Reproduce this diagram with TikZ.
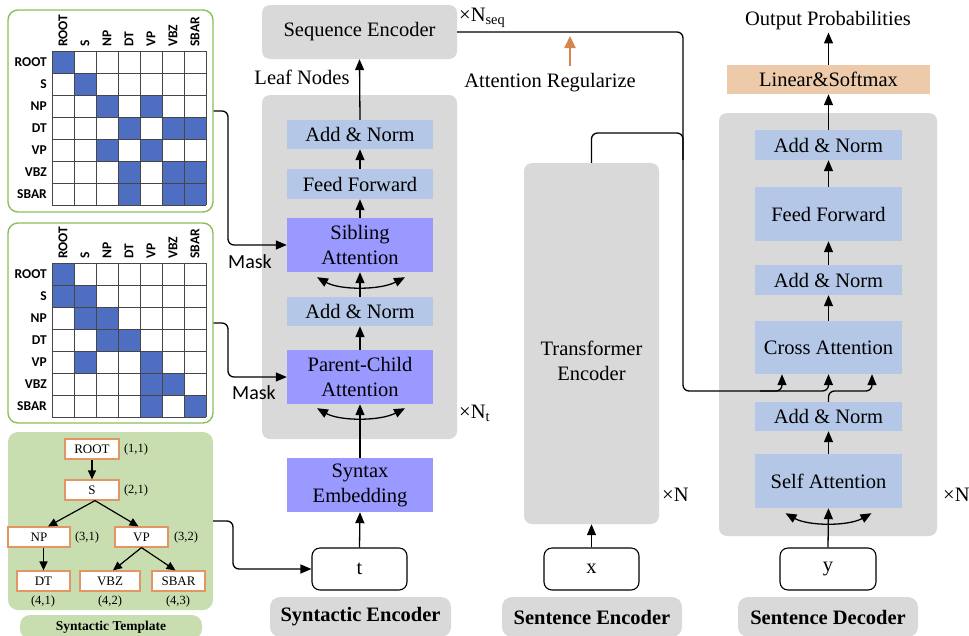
\documentclass[tikz,border=0pt]{standalone}
\usepackage{fontspec}
\setmainfont{Liberation Serif}
\newfontfamily\calibrifont{Carlito}
\usetikzlibrary{arrows.meta,calc}

\definecolor{boxgray}{RGB}{217,217,217}
\definecolor{lblue}{RGB}{180,199,231}
\definecolor{attn}{RGB}{153,153,255}
\definecolor{linfill}{RGB}{236,202,170}
\definecolor{cellblue}{RGB}{77,110,193}
\definecolor{panelgreen}{RGB}{140,190,90}
\definecolor{treefill}{RGB}{200,222,176}
\definecolor{treeedge}{RGB}{226,150,100}
\definecolor{regorange}{RGB}{214,134,76}
\definecolor{gridcol}{RGB}{70,70,70}

\begin{document}
\begin{tikzpicture}[x=1pt,y=-1pt,
  txt/.style={font=\fontsize{20.5}{25}\selectfont},
  bg/.style={fill=boxgray, rounded corners=8pt, draw=none, inner sep=0pt},
  blk/.style={fill=lblue, inner sep=0pt, minimum width=146pt, minimum height=29pt, align=center, txt},
  att/.style={blk, fill=attn, minimum height=54pt},
  inbox/.style={draw=black, line width=1.1pt, fill=white, rounded corners=8pt, minimum width=95pt, minimum height=42pt, inner sep=0pt, txt},
  tag/.style={fill=boxgray, rounded corners=10pt, minimum width=181pt, minimum height=40pt, inner sep=0pt, font=\fontsize{20.5}{25}\selectfont\bfseries},
  flow/.style={line width=1.3pt, -{Triangle[length=11pt,width=9pt]}},
  both/.style={line width=1.3pt, {Triangle[length=11pt,width=9pt]}-{Triangle[length=11pt,width=9pt]}},
  panel/.style={draw=panelgreen, line width=1.4pt, fill=white, rounded corners=10pt, minimum width=205pt, inner sep=0pt},
  gridln/.style={draw=gridcol, line width=0.9pt},
  rowlbl/.style={anchor=east, inner sep=0pt, font=\fontsize{13.5}{15}\calibrifont\bfseries},
  collbl/.style={anchor=west, rotate=90, inner sep=0pt, font=\fontsize{13.5}{15}\calibrifont\bfseries},
  masklbl/.style={inner sep=0pt, font=\fontsize{20}{24}\calibrifont},
  tnode/.style={draw=treeedge, line width=1.2pt, fill=white, minimum height=20pt, inner sep=0pt, font=\fontsize{13}{15}\selectfont},
  tpos/.style={inner sep=0pt, font=\fontsize{12.5}{14}\selectfont},
  tarrow/.style={line width=1.2pt, -{Triangle[length=9pt,width=8pt]}},
  conn/.style={flow, rounded corners=6pt}
]
\useasboundingbox (0,0) rectangle (969,635);
\clip (0,0) rectangle (969,635);

% ---------- sibling mask matrix ----------
\node[panel, minimum height=202pt] (p1) at (110.5,111) {};
\foreach \r/\c in {0/0,1/1,2/2,2/4,3/3,3/5,3/6,4/2,4/4,5/3,5/5,5/6,6/3,6/5,6/6}
  \fill[cellblue] ({52+22*\c},{51+22*\r}) rectangle ++(22,22);
\foreach \i in {0,...,7} {
  \draw[gridln] ({52+22*\i},51) -- ++(0,154);
  \draw[gridln] (52,{51+22*\i}) -- ++(154,0);
}
\foreach \n [count=\k from 0] in {ROOT,S,NP,DT,VP,VBZ,SBAR} {
  \node[rowlbl] (ar\k) at (47,{62+22*\k}) {\n};
  \node[collbl] (ac\k) at ({63+22*\k},47) {\n};
}

% ---------- parent-child mask matrix ----------
\node[panel, minimum height=200pt] (p2) at (110.5,323) {};
\foreach \r/\c in {0/0,1/0,1/1,2/1,2/2,3/2,3/3,4/1,4/4,5/4,5/5,6/4,6/6}
  \fill[cellblue] ({52+22*\c},{263+22*\r}) rectangle ++(22,22);
\foreach \i in {0,...,7} {
  \draw[gridln] ({52+22*\i},263) -- ++(0,154);
  \draw[gridln] (52,{263+22*\i}) -- ++(154,0);
}
\foreach \n [count=\k from 0] in {ROOT,S,NP,DT,VP,VBZ,SBAR} {
  \node[rowlbl] (br\k) at (47,{274+22*\k}) {\n};
  \node[collbl] (bc\k) at ({63+22*\k},259) {\n};
}

% ---------- syntactic template tree ----------
\node[fill=treefill, rounded corners=10pt, minimum width=205pt, minimum height=178pt, inner sep=0pt] (tp) at (110.5,521) {};
\node[fill=treefill, rounded corners=10pt, minimum width=182pt, minimum height=24pt, inner sep=0pt,
      font=\fontsize{13.5}{16}\selectfont\bfseries] (tplbl) at (111,627) {Syntactic Template};
\node[tnode, minimum width=54pt] (root) at (92,449) {ROOT};
\node[tnode, minimum width=54pt] (s) at (92,490) {S};
\node[tnode, minimum width=62pt] (np) at (39,537) {NP};
\node[tnode, minimum width=53pt] (vp) at (141.5,537) {VP};
\node[tnode, minimum width=53pt] (dt) at (43.5,581) {DT};
\node[tnode, minimum width=60pt] (vbz) at (110,581) {VBZ};
\node[tnode, minimum width=53pt] (sbar) at (178.5,581) {SBAR};
\node[tpos] (c11) at (136,449) {(1,1)};
\node[tpos] (c21) at (136,490) {(2,1)};
\node[tpos] (c31) at (87,537) {(3,1)};
\node[tpos] (c32) at (186,537) {(3,2)};
\node[tpos] (c41) at (43,601) {(4,1)};
\node[tpos] (c42) at (110,601) {(4,2)};
\node[tpos] (c43) at (178,601) {(4,3)};
\draw[tarrow] (root) -- (s);
\draw[tarrow] ($(s.south)+(3,0)$) -- ($(np.north)+(9,0)$);
\draw[tarrow] ($(s.south)+(3,0)$) -- ($(vp.north)+(-3,0)$);
\draw[tarrow] (dt.north |- np.south) -- (dt.north);
\draw[tarrow] (vp.south) -- ($(vbz.north)+(3,0)$);
\draw[tarrow] (vp.south) -- ($(sbar.north)+(-3,0)$);

% ---------- syntactic encoder ----------
\node[bg, minimum width=195pt, minimum height=54pt, txt] (seq) at (359.5,32) {Sequence Encoder};
\node[bg, minimum width=195pt, minimum height=344pt] (synbg) at (359.5,267) {};
\node[blk] (an1) at (360,134.5) {Add \& Norm};
\node[blk, minimum height=30pt] (ff1) at (360,184) {Feed Forward};
\node[att] (sib) at (360,245) {Sibling\\Attention};
\node[blk] (an2) at (360,311.5) {Add \& Norm};
\node[att] (pc) at (360,377) {Parent-Child\\Attention};
\node[att] (emb) at (360,485) {Syntax\\Embedding};
\node[inbox] (t) at (359.5,569) {t};
\node[tag] (synlbl) at (360.5,617) {Syntactic Encoder};
\node[txt, inner sep=0pt] (leaf) at (302,77) {Leaf Nodes};
\node[txt, inner sep=0pt, anchor=west] (nseq) at (459,18) {×N\textsubscript{seq}};
\node[txt, inner sep=0pt, anchor=west] (nt) at (459,413) {×N\textsubscript{t}};
\node[masklbl] (mask1) at (250,262) {Mask};
\node[masklbl] (mask2) at (254,393) {Mask};

\draw[flow] (an1.north) -- (seq.south);
\draw[flow] (ff1.north) -- (an1.south);
\draw[flow] (sib.north) -- (ff1.south);
\draw[flow] (an2.north) -- (sib.south);
\draw[flow] (pc.north) -- (an2.south);
\draw[flow] (emb.north) -- (pc.south);
\draw[flow] (t.north) -- (emb.south);
\draw[both] ($(sib.south)+(-43,5)$) .. controls ($(sib.south)+(-20,18)$) and ($(sib.south)+(20,18)$) .. ($(sib.south)+(45,5)$);
\draw[both] ($(pc.south)+(-43,4)$) .. controls ($(pc.south)+(-20,17)$) and ($(pc.south)+(20,17)$) .. ($(pc.south)+(45,4)$);

% mask and template inputs
\draw[conn] (p1.east) -- (228,111) -- (228,245) -- (sib.west);
\draw[conn] (p2.east) -- (228,323) -- (228,377) -- (pc.west);
\draw[conn] (tp.east) -- (233,521) -- (233,569) -- (t.west);

% ---------- sentence encoder ----------
\node[bg, minimum width=135pt, minimum height=361pt] (tenc) at (591.5,343.5) {};
\node[txt, align=center, inner sep=0pt] (tenctxt) at (591.5,360.5) {Transformer\\Encoder};
\node[inbox] (x) at (591.5,569) {x};
\node[tag, minimum width=180pt] (senclbl) at (592,617) {Sentence Encoder};
\node[txt, inner sep=0pt, anchor=west] (nenc) at (662,495) {×N};
\draw[flow] (x.north) -- (tenc.south);

% attention regularisation hint
\coordinate (regtail) at (570,66);
\coordinate (reghead) at (570,36);
\draw[line width=2.2pt, regorange, -{Triangle[length=12pt,width=11pt]}] (regtail) -- (reghead);
\node[txt, inner sep=0pt] (reglbl) at (550,83) {Attention Regularize};

% ---------- sentence decoder ----------
\node[bg, minimum width=218pt, minimum height=423pt] (decbg) at (828,324.5) {};
\node[txt, inner sep=2pt] (outp) at (828,21) {Output Probabilities};
\node[blk, fill=linfill, minimum width=203pt] (lin) at (828.5,79.5) {Linear\&Softmax};
\node[blk, minimum width=147pt, minimum height=30pt] (dan1) at (828.5,145) {Add \& Norm};
\node[blk, minimum width=147pt, minimum height=54pt] (dff) at (828.5,214) {Feed Forward};
\node[blk, minimum width=147pt, minimum height=30pt] (dan2) at (828.5,280) {Add \& Norm};
\node[blk, minimum width=147pt, minimum height=53pt] (cross) at (828.5,347.5) {Cross Attention};
\node[blk, minimum width=147pt] (dan3) at (828.5,416.5) {Add \& Norm};
\node[blk, minimum width=147pt, minimum height=54pt] (self) at (828.5,481) {Self Attention};
\node[inbox, minimum width=96pt] (y) at (828,569) {y};
\node[tag, minimum width=180pt] (sdeclbl) at (828,617) {Sentence Decoder};
\node[txt, inner sep=0pt, anchor=west] (ndec) at (943,495) {×N};

\draw[flow] (lin.north) -- (lin.north |- outp.south);
\draw[flow] (dan1.north) -- (lin.south);
\draw[flow] (dff.north) -- (dan1.south);
\draw[flow] (dan2.north) -- (dff.south);
\draw[flow] (cross.north) -- (dan2.south);
\draw[flow] (self.north) -- (dan3.south);
\draw[flow] (y.north) -- (self.south);
\draw[both] ($(self.south)+(-43,5)$) .. controls ($(self.south)+(-20,18)$) and ($(self.south)+(20,18)$) .. ($(self.south)+(43,5)$);

% encoder memory feeding cross attention
\draw[rounded corners=6pt, line width=1.3pt] (tenc.north) -- (591.5,133) -- (683,133) -- (683,160);
\draw[conn] (seq.east) -- (683,32) -- (683,391) -- (782,391) -- ($(cross.south)+(-46.5,0)$);
\draw[conn] (760,391) -- (828.5,391) -- (cross.south);
\draw[conn] (dan3.north) -- (828.5,391) -- (872,391) -- ($(cross.south)+(43.5,0)$);
\end{tikzpicture}
\end{document}
